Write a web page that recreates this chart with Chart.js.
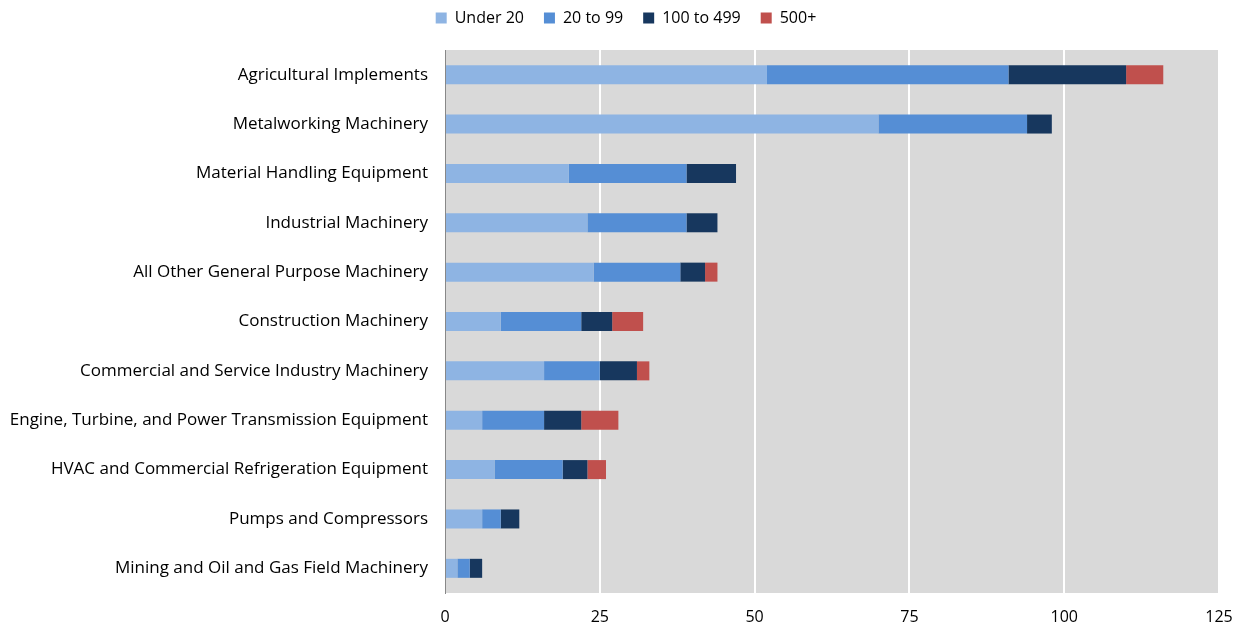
<!DOCTYPE html>
<html lang="en">
<head>
  <meta charset="UTF-8" />
  <title>Machinery establishments by size</title>
  <style>
    html, body { margin: 0; padding: 0; background: #fff; }
    #wrap { width: 1243px; height: 630px; }
  </style>
</head>
<body>
  <div id="wrap"><canvas id="chart" width="1243" height="630"></canvas></div>
  <script src="https://cdn.jsdelivr.net/npm/chart.js"></script>
  <script>
    const categories = [
      'Agricultural Implements',
      'Metalworking Machinery',
      'Material Handling Equipment',
      'Industrial Machinery',
      'All Other General Purpose Machinery',
      'Construction Machinery',
      'Commercial and Service Industry Machinery',
      'Engine, Turbine, and Power Transmission Equipment',
      'HVAC and Commercial Refrigeration Equipment',
      'Pumps and Compressors',
      'Mining and Oil and Gas Field Machinery'
    ];
    const under20 = [52, 70, 20, 23, 24, 9, 16, 6, 8, 6, 2];
    const from20to99 = [39, 24, 19, 16, 14, 13, 9, 10, 11, 3, 2];
    const from100to499 = [19, 4, 8, 5, 4, 5, 6, 6, 4, 3, 2];
    const over500 = [6, 0, 0, 0, 2, 5, 2, 6, 3, 0, 0];
    const xTicks = [0, 25, 50, 75, 100, 125];

    const fontFamily = '"Open Sans", "Liberation Sans", sans-serif';

    // grey plot area behind the bars
    const plotBg = {
      id: 'plotBg',
      beforeDraw(chart) {
        const { ctx, chartArea: a } = chart;
        ctx.save();
        ctx.fillStyle = '#d9d9d9';
        ctx.fillRect(a.left, a.top, a.right - a.left, a.bottom - a.top);
        ctx.restore();
      }
    };

    // extra room between legend and plot
    const legendGap = {
      id: 'legendGap',
      beforeInit(chart) {
        const fit = chart.legend.fit;
        chart.legend.fit = function () {
          fit.call(this);
          this.height += 14;
        };
      }
    };

    const bar = (label, data, color) => ({
      label, data,
      backgroundColor: color,
      borderWidth: 0,
      categoryPercentage: 0.77,
      barPercentage: 0.5
    });

    new Chart(document.getElementById('chart'), {
      type: 'bar',
      data: {
        labels: categories,
        datasets: [
          bar('Under 20', under20, '#8eb4e3'),
          bar('20 to 99', from20to99, '#558ed5'),
          bar('100 to 499', from100to499, '#17375e'),
          bar('500+', over500, '#c0504d')
        ]
      },
      options: {
        indexAxis: 'y',
        responsive: false,
        animation: false,
        layout: { padding: { left: 9, right: 0, top: -10, bottom: 0 } },
        plugins: {
          legend: {
            position: 'top',
            labels: {
              boxWidth: 11,
              boxHeight: 11,
              padding: 20,
              color: '#000',
              font: { family: fontFamily, size: 16 }
            }
          },
          tooltip: { enabled: false }
        },
        scales: {
          x: {
            stacked: true,
            min: 0,
            max: 125,
            afterBuildTicks(axis) { axis.ticks = xTicks.map(v => ({ value: v })); },
            afterFit(axis) {
              axis.height = 37;
              axis.paddingRight = 24;
            },
            grid: { color: '#ffffff', lineWidth: 2, drawTicks: false },
            border: { display: false },
            ticks: {
              color: '#000',
              padding: 15,
              font: { family: fontFamily, size: 16 }
            }
          },
          y: {
            stacked: true,
            afterFit(axis) { axis.width = 436; },
            grid: { display: false, drawTicks: false },
            border: { display: true, color: '#888888', width: 1 },
            ticks: {
              color: '#000',
              padding: 17,
              font: { family: fontFamily, size: 17 }
            }
          }
        }
      },
      plugins: [plotBg, legendGap]
    });
  </script>
</body>
</html>
